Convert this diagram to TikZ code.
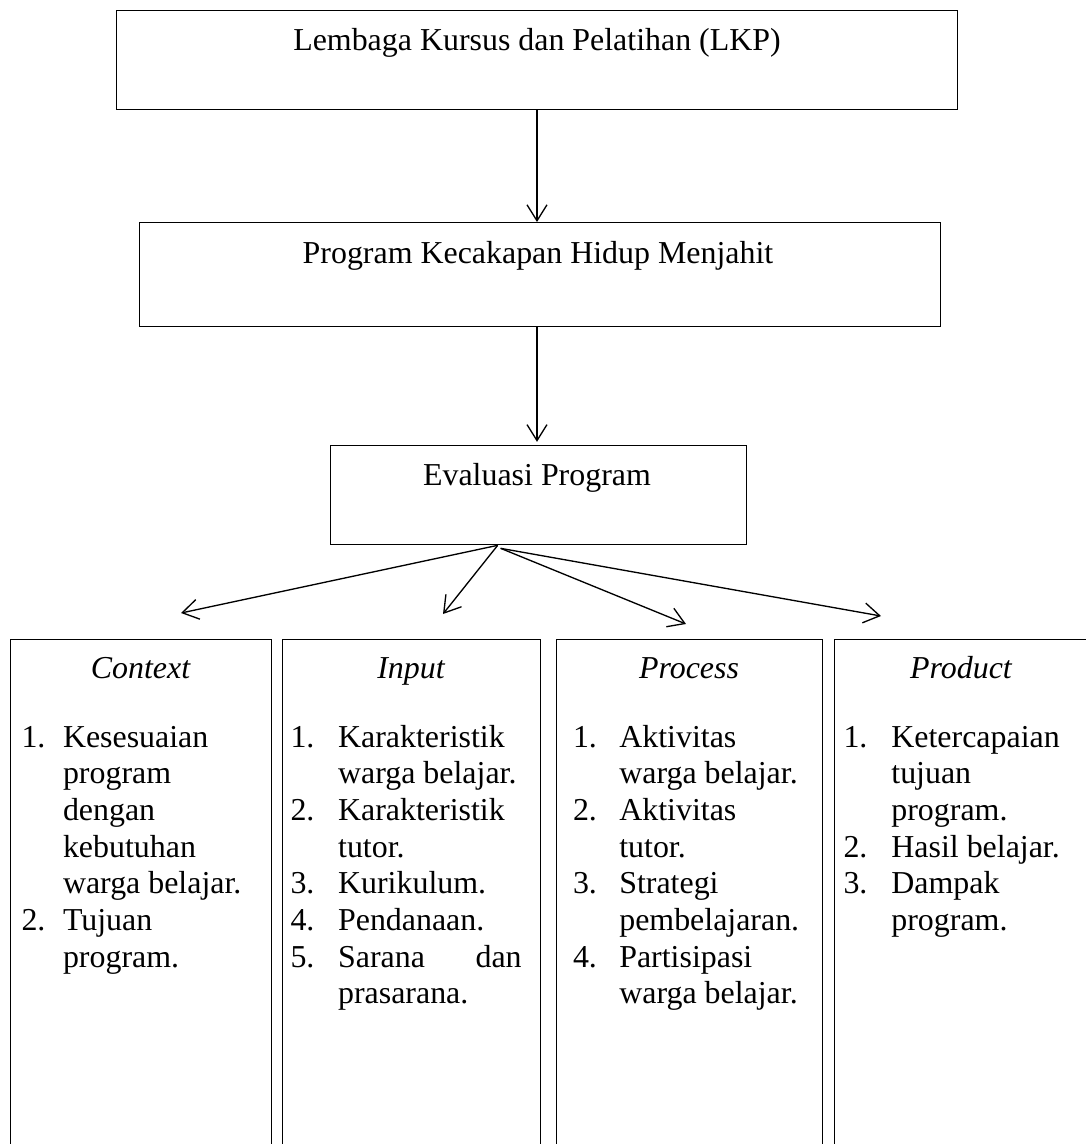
\documentclass[tikz,border=0pt]{standalone}
\usepackage{fontspec}
\setmainfont{Liberation Serif}
\usetikzlibrary{arrows.meta}
\def\px{0.376pt}
\tikzset{
  frame/.style={draw, line width=0.5pt, inner sep=0pt, anchor=north west},
  txt/.style={anchor=base, inner sep=0pt, font=\fontsize{12pt}{13.8pt}\selectfont},
  lst/.style={anchor=base west, inner sep=0pt, font=\fontsize{12pt}{13.8pt}\selectfont},
  arr/.style={line width=0.5pt, -{Straight Barb[length=6pt,width=7.5pt,line width=0.5pt]}}
}
\begin{document}
\begin{tikzpicture}[x=0.376pt, y=-0.376pt]
\useasboundingbox (0,0) rectangle (1086,1144);
\clip (0,0) rectangle (1086,1144);
% top boxes
\node[frame, minimum width=841*\px, minimum height=99*\px] (lkp) at (116,10) {};
\node[txt] (lkpt) at (537,50) {Lembaga Kursus dan Pelatihan (LKP)};
\node[frame, minimum width=801*\px, minimum height=104*\px] (prog) at (139,222) {};
\node[txt] (progt) at (538,263) {Program Kecakapan Hidup Menjahit};
\node[frame, minimum width=416*\px, minimum height=99*\px] (eval) at (330,445) {};
\node[txt] (evalt) at (537,485) {Evaluasi Program};
% vertical arrows
\draw[arr] (lkp.south -| 537,0) -- (prog.north -| 537,0);
\draw[arr] (prog.south -| 537,0) -- ([yshift=1.2pt]eval.north -| 537,0);
% bottom boxes
\node[frame, minimum width=261*\px, minimum height=530*\px] (ctx) at (10,639) {};
\node[frame, minimum width=258*\px, minimum height=530*\px] (inp) at (282,639) {};
\node[frame, minimum width=266*\px, minimum height=530*\px] (prc) at (556,639) {};
\node[frame, minimum width=256*\px, minimum height=530*\px] (prd) at (834,639) {};
% arrow ends
\coordinate (ectx) at (181,613);
\coordinate (einp) at (443,614);
\coordinate (eprc) at (686,624);
\coordinate (eprd) at (881,616);
\coordinate (s1) at ([xshift=-41*\px]eval.south);
\coordinate (s2) at ([xshift=-38*\px, yshift=-3*\px]eval.south);
\draw[arr] (s1) -- (ectx);
\draw[arr] (s1) -- (einp);
\draw[arr] (s2) -- (eprc);
\draw[arr] (s2) -- (eprd);
% headers
\node[txt] (hctx) at (140.5,678) {\itshape Context};
\node[txt] (hinp) at (411,678) {\itshape Input};
\node[txt] (hprc) at (689,678) {\itshape Process};
\node[txt] (hprd) at (961,678) {\itshape Product};
% lists
\node[lst] (lctx) at (21,747) {\begin{tabular}[t]{@{}p{15.6pt}@{}l@{}}
1. & Kesesuaian \\
   & program \\
   & dengan \\
   & kebutuhan \\
   & warga belajar. \\
2. & Tujuan \\
   & program.
\end{tabular}};
\node[lst] (linp) at (290,747) {\begin{tabular}[t]{@{}p{17.9pt}@{}l@{}}
1. & Karakteristik \\
   & warga belajar. \\
2. & Karakteristik \\
   & tutor. \\
3. & Kurikulum. \\
4. & Pendanaan. \\
5. & \hbox to 69pt{Sarana\hfill dan} \\
   & prasarana.
\end{tabular}};
\node[lst] (lprc) at (572.5,747) {\begin{tabular}[t]{@{}p{17.4pt}@{}l@{}}
1. & Aktivitas \\
   & warga belajar. \\
2. & Aktivitas \\
   & tutor. \\
3. & Strategi \\
   & pembelajaran. \\
4. & Partisipasi \\
   & warga belajar.
\end{tabular}};
\node[lst] (lprd) at (843,747) {\begin{tabular}[t]{@{}p{18pt}@{}l@{}}
1. & Ketercapaian \\
   & tujuan \\
   & program. \\
2. & Hasil belajar. \\
3. & Dampak \\
   & program.
\end{tabular}};
\end{tikzpicture}
\end{document}
